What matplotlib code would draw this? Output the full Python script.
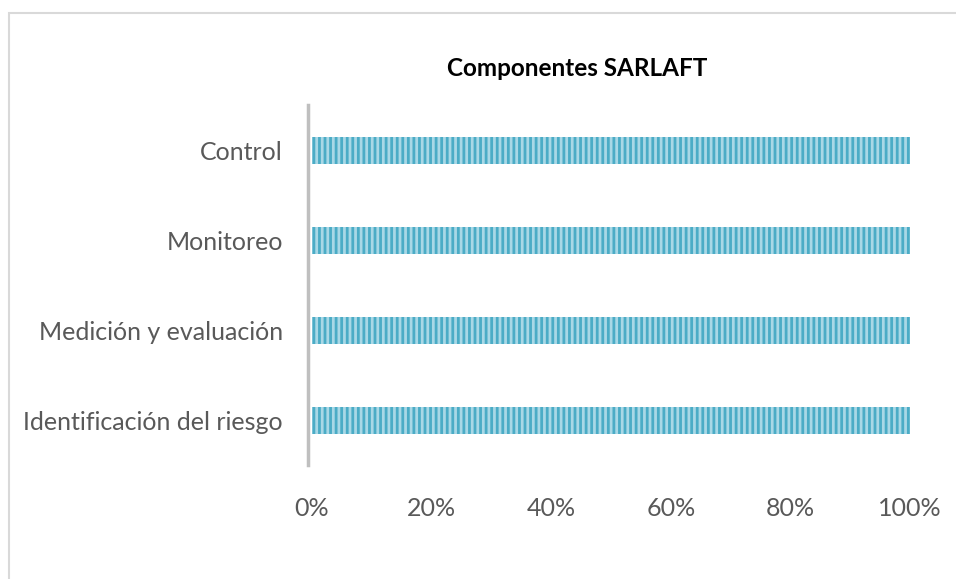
import matplotlib.pyplot as plt
from matplotlib.patches import Rectangle
from matplotlib.ticker import PercentFormatter

plt.rcParams['font.family'] = ['Lato', 'DejaVu Sans']
plt.rcParams['hatch.linewidth'] = 2.0

categories = ['Identificación del riesgo', 'Medición y evaluación', 'Monitoreo', 'Control']
values = [100, 100, 100, 100]
xticks = [0, 20, 40, 60, 80, 100]

fig = plt.figure(figsize=(9.56, 5.79), dpi=100)
W, H = 956, 579

# outer chart border (right and bottom edges fall outside the image)
fig.patches.append(Rectangle((9 / W, -0.1), 1.2, 1.1 - 13 / H, transform=fig.transFigure,
                             fill=False, edgecolor='#d9d9d9', linewidth=1.5))

ax = fig.add_axes([312 / W, 1 - 465 / H, (910 - 312) / W, (465 - 105) / H])
ax.barh(categories, values, height=0.3, color='#a9d8e6', edgecolor='#4bacc6',
        hatch='|||', linewidth=0)

ax.set_xlim(0, 100)
ax.set_ylim(-0.5, len(categories) - 0.5)
ax.set_xticks(xticks)
ax.xaxis.set_major_formatter(PercentFormatter(decimals=0))

for s in ['top', 'right', 'bottom']:
    ax.spines[s].set_visible(False)
ax.spines['left'].set_color('#bfbfbf')
ax.spines['left'].set_linewidth(2.5)
ax.spines['left'].set_position(('outward', 3))

ax.tick_params(axis='both', length=0, labelsize=18, colors='#595959')
ax.tick_params(axis='x', pad=23)
ax.tick_params(axis='y', pad=18)

fig.text(577 / W, 1 - 68 / H, 'Componentes SARLAFT', ha='center', va='center',
         fontsize=17.5, fontweight='bold', color='black')

fig.savefig('out.png', dpi=100)
